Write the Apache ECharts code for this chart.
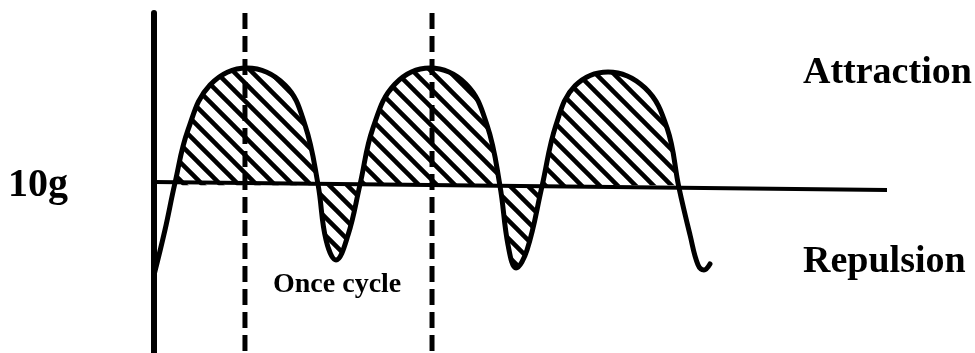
<!DOCTYPE html>
<html>
<head>
<meta charset="utf-8">
<title>Attraction / Repulsion cycle</title>
<script src="https://cdn.jsdelivr.net/npm/echarts@6/dist/echarts.min.js"></script>
<style>
  html, body { margin: 0; padding: 0; background: #fff; }
  #chart { width: 975px; height: 353px; }
</style>
</head>
<body>
<div id="chart"></div>
<script>
// 时间轴 0..100, 力值 (g), 基线 10g
var leadIn = [
  [0, 1.88], [1.50, 5.86], [2.86, 10.0]
]
var cycleCurve = [
  [2.86, 10.0], [4.64, 14.68], [7.64, 18.65], [12.69, 20.15], [17.87, 18.65],
  [20.60, 15.12], [22.37, 9.9],
  [23.47, 4.97], [24.83, 3.21], [26.47, 5.41], [28.10, 9.85],
  [29.88, 14.86], [32.88, 18.74], [37.65, 20.15], [42.56, 18.74], [45.43, 15.12],
  [47.20, 9.75],
  [48.30, 4.53], [49.39, 2.50], [50.89, 4.09], [52.93, 9.7],
  [54.84, 15.12], [57.44, 18.57], [61.94, 19.80], [66.98, 18.39], [69.99, 14.86],
  [71.62, 9.58]
]
var tail = [
  [71.62, 9.58], [73.13, 5.41], [74.22, 2.77], [75.03, 2.33], [75.85, 2.86]
]
var baseLine = [[0, 10.09], [100, 9.39]]
var cycleMarks = [12.41, 37.93]
var labels = ['10g', 'Attraction', 'Repulsion', 'Once cycle']

// 斜线填充
function hatch () {
  var c = document.createElement('canvas')
  var s = 18
  c.width = s
  c.height = s
  var ctx = c.getContext('2d')
  ctx.strokeStyle = '#000'
  ctx.lineWidth = 4.5
  ctx.beginPath()
  ctx.moveTo(-s, -s); ctx.lineTo(2 * s, 2 * s)
  ctx.moveTo(-s, 0); ctx.lineTo(s, 2 * s)
  ctx.moveTo(0, -s); ctx.lineTo(2 * s, s)
  ctx.stroke()
  return c
}

var fullCurve = leadIn.concat(cycleCurve.slice(1), tail.slice(1))

var serif = '"Liberation Serif", "DejaVu Serif", serif'

var series = [
  {
    name: 'baseline',
    type: 'line',
    data: baseLine,
    symbol: 'none',
    lineStyle: { color: '#000', width: 4 },
    silent: true
  },
  {
    name: 'hatch',
    type: 'line',
    data: cycleCurve,
    symbol: 'none',
    smooth: 0.4,
    lineStyle: { width: 0 },
    areaStyle: { origin: 9.8, opacity: 1, color: { image: hatch(), repeat: 'repeat' } },
    silent: true
  },
  {
    name: 'force',
    type: 'line',
    data: fullCurve,
    symbol: 'none',
    smooth: 0.4,
    lineStyle: { color: '#000', width: 5, cap: 'round', join: 'round' },
    silent: true
  }
]
cycleMarks.forEach(function (x, i) {
  series.push({
    name: 'cycle' + i,
    type: 'line',
    data: [[x, 25], [x, -5]],
    symbol: 'none',
    lineStyle: { color: '#000', width: 5, type: [16, 7] },
    silent: true
  })
})

var option = {
  animation: false,
  backgroundColor: '#fff',
  grid: { left: 154, right: 88, top: 13, bottom: 0 },
  xAxis: { type: 'value', min: 0, max: 100, show: false },
  yAxis: {
    type: 'value',
    min: -5,
    max: 25,
    axisLine: { show: true, lineStyle: { color: '#000', width: 6 } },
    axisTick: { show: false },
    axisLabel: { show: false },
    splitLine: { show: false }
  },
  graphic: [
    { type: 'text', left: 8, top: 166, style: { text: labels[0], font: 'bold 40px ' + serif, fill: '#000' } },
    { type: 'text', left: 803, top: 54, style: { text: labels[1], font: 'bold 38px ' + serif, fill: '#000' } },
    { type: 'text', left: 803, top: 243, style: { text: labels[2], font: 'bold 38px ' + serif, fill: '#000' } },
    { type: 'text', left: 273, top: 271, style: { text: labels[3], font: 'bold 28px ' + serif, fill: '#000' } }
  ],
  series: series
}

var chart = echarts.init(document.getElementById('chart'))
chart.setOption(option)
</script>
</body>
</html>
